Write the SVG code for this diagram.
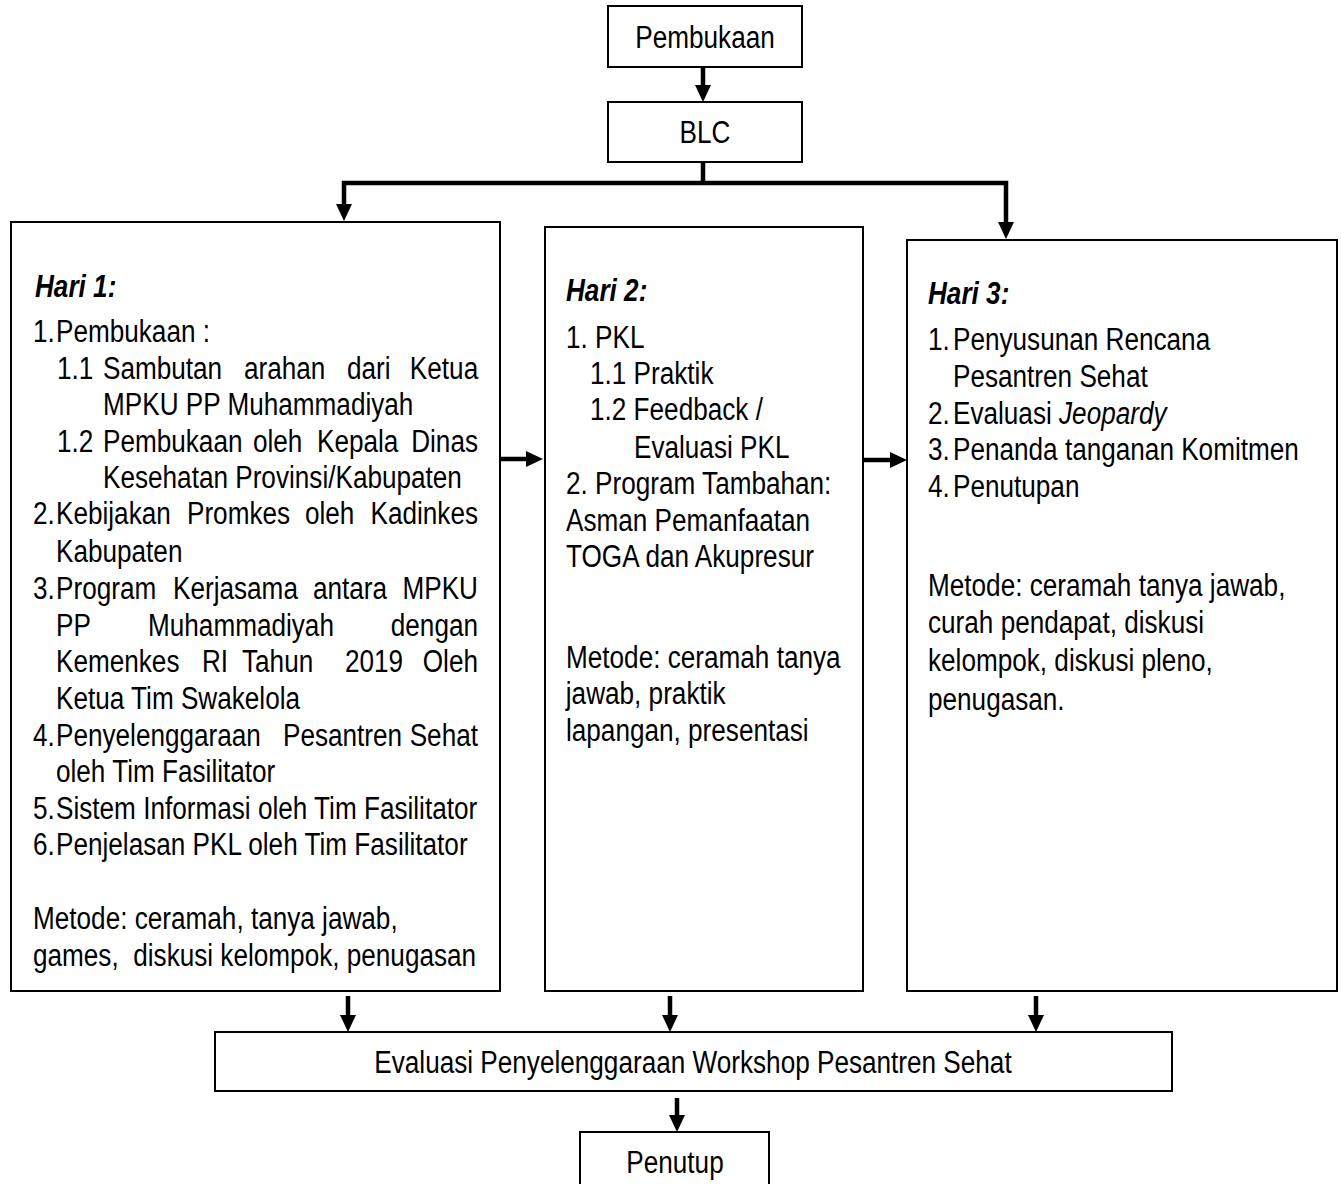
<svg xmlns="http://www.w3.org/2000/svg" width="1341" height="1184" viewBox="0 0 1341 1184">
<style>
.box{fill:#fff;stroke:#000;stroke-width:2}
.t{font-family:"Liberation Sans",Arial,sans-serif;font-size:31.5px;fill:#000;transform-box:fill-box;transform-origin:0% 50%;transform:scaleX(0.83)}
.h{font-weight:bold;font-style:italic}
.i{font-style:italic}
.c{text-anchor:middle;transform-origin:50% 50%}
.e{text-anchor:end;transform-origin:100% 50%}
.con{fill:none;stroke:#000;stroke-width:4.5}
</style>
<defs>
<marker id="ah" viewBox="0 0 17 16" markerWidth="17" markerHeight="16" refX="1" refY="8" orient="auto" markerUnits="userSpaceOnUse">
<path d="M0,0 L17,8 L0,16 z" fill="#000"/>
</marker>
</defs>
<rect width="1341" height="1184" fill="#fff"/>
<g id="connectors">
<path class="con" d="M703,67 V86" marker-end="url(#ah)"/>
<path class="con" d="M703,162 V183"/>
<path class="con" d="M703,183 H344 V205" marker-end="url(#ah)"/>
<path class="con" d="M703,183 H1006 V223" marker-end="url(#ah)"/>
<path class="con" d="M501,459 H527" marker-end="url(#ah)"/>
<path class="con" d="M863,460 H891" marker-end="url(#ah)"/>
<path class="con" d="M348,996 V1016" marker-end="url(#ah)"/>
<path class="con" d="M670,996 V1016" marker-end="url(#ah)"/>
<path class="con" d="M1036,996 V1016" marker-end="url(#ah)"/>
<path class="con" d="M677,1098 V1116" marker-end="url(#ah)"/>
</g>
<g id="pembukaan">
<rect class="box" x="608" y="6" width="194" height="61"/>
<text class="t c" x="705" y="48">Pembukaan</text>
</g>
<g id="blc">
<rect class="box" x="608" y="102" width="194" height="60"/>
<text class="t c" x="705" y="143">BLC</text>
</g>
<g id="hari1">
<rect class="box" x="11" y="222" width="489" height="769"/>
<text class="t h" x="35" y="297">Hari 1:</text>
<text class="t" x="33" y="342">1.</text><text class="t" x="56" y="342">Pembukaan :</text>
<text class="t" x="57" y="379">1.1</text><text class="t" x="103" y="379">Sambutan</text><text class="t" x="244" y="379">arahan</text><text class="t" x="347" y="379">dari</text><text class="t e" x="478" y="379">Ketua</text>
<text class="t" x="103" y="415">MPKU PP Muhammadiyah</text>
<text class="t" x="57" y="452">1.2</text><text class="t" x="103" y="452">Pembukaan</text><text class="t" x="253" y="452">oleh</text><text class="t" x="317" y="452">Kepala</text><text class="t e" x="478" y="452">Dinas</text>
<text class="t" x="103" y="488">Kesehatan Provinsi/Kabupaten</text>
<text class="t" x="33" y="524">2.</text>
<text class="t" x="56" y="524">Kebijakan</text><text class="t" x="187" y="524">Promkes</text><text class="t" x="305" y="524">oleh</text><text class="t e" x="478" y="524">Kadinkes</text>
<text class="t" x="56" y="562">Kabupaten</text>
<text class="t" x="33" y="599">3.</text><text class="t" x="56" y="599">Program</text><text class="t" x="173" y="599">Kerjasama</text><text class="t" x="313" y="599">antara</text><text class="t e" x="478" y="599">MPKU</text>
<text class="t" x="56" y="636">PP</text><text class="t" x="148" y="636">Muhammadiyah</text><text class="t e" x="478" y="636">dengan</text>
<text class="t" x="56" y="672">Kemenkes</text><text class="t" x="202" y="672">RI</text><text class="t" x="242" y="672">Tahun</text><text class="t" x="345" y="672">2019</text><text class="t e" x="478" y="672">Oleh</text>
<text class="t" x="56" y="709">Ketua Tim Swakelola</text>
<text class="t" x="33" y="746">4.</text><text class="t" x="56" y="746">Penyelenggaraan</text><text class="t" x="283" y="746">Pesantren</text><text class="t e" x="478" y="746">Sehat</text>
<text class="t" x="56" y="782">oleh Tim Fasilitator</text>
<text class="t" x="33" y="819">5.</text><text class="t" x="56" y="819">Sistem Informasi oleh Tim Fasilitator</text>
<text class="t" x="33" y="855">6.</text><text class="t" x="56" y="855">Penjelasan PKL oleh Tim Fasilitator</text>
<text class="t" x="33" y="929">Metode: ceramah, tanya jawab,</text>
<text class="t" x="33" y="966" style="white-space:pre">games,  diskusi kelompok, penugasan</text>
</g>
<g id="hari2">
<rect class="box" x="545" y="227" width="318" height="764"/>
<text class="t h" x="566" y="301">Hari 2:</text>
<text class="t" x="566" y="348">1. PKL</text>
<text class="t" x="590" y="384">1.1 Praktik</text>
<text class="t" x="590" y="420">1.2 Feedback /</text>
<text class="t" x="634" y="458">Evaluasi PKL</text>
<text class="t" x="566" y="494">2. Program Tambahan:</text>
<text class="t" x="566" y="531">Asman Pemanfaatan</text>
<text class="t" x="566" y="567">TOGA dan Akupresur</text>
<text class="t" x="566" y="668">Metode: ceramah tanya</text>
<text class="t" x="566" y="704">jawab, praktik</text>
<text class="t" x="566" y="741">lapangan, presentasi</text>
</g>
<g id="hari3">
<rect class="box" x="907" y="240" width="430" height="751"/>
<text class="t h" x="928" y="304">Hari 3:</text>
<text class="t" x="928" y="350">1.</text><text class="t" x="953" y="350">Penyusunan Rencana</text>
<text class="t" x="953" y="387">Pesantren Sehat</text>
<text class="t" x="928" y="424">2.</text><text class="t" x="953" y="424">Evaluasi <tspan class="i">Jeopardy</tspan></text>
<text class="t" x="928" y="460">3.</text><text class="t" x="953" y="460">Penanda tanganan Komitmen</text>
<text class="t" x="928" y="497">4.</text><text class="t" x="953" y="497">Penutupan</text>
<text class="t" x="928" y="596">Metode: ceramah tanya jawab,</text>
<text class="t" x="928" y="633">curah pendapat, diskusi</text>
<text class="t" x="928" y="671">kelompok, diskusi pleno,</text>
<text class="t" x="928" y="710">penugasan.</text>
</g>
<g id="evaluasi">
<rect class="box" x="215" y="1032" width="957" height="59"/>
<text class="t c" x="693" y="1073">Evaluasi Penyelenggaraan Workshop Pesantren Sehat</text>
</g>
<g id="penutup">
<rect class="box" x="580" y="1132" width="189" height="70"/>
<text class="t c" x="675" y="1173">Penutup</text>
</g>
</svg>
